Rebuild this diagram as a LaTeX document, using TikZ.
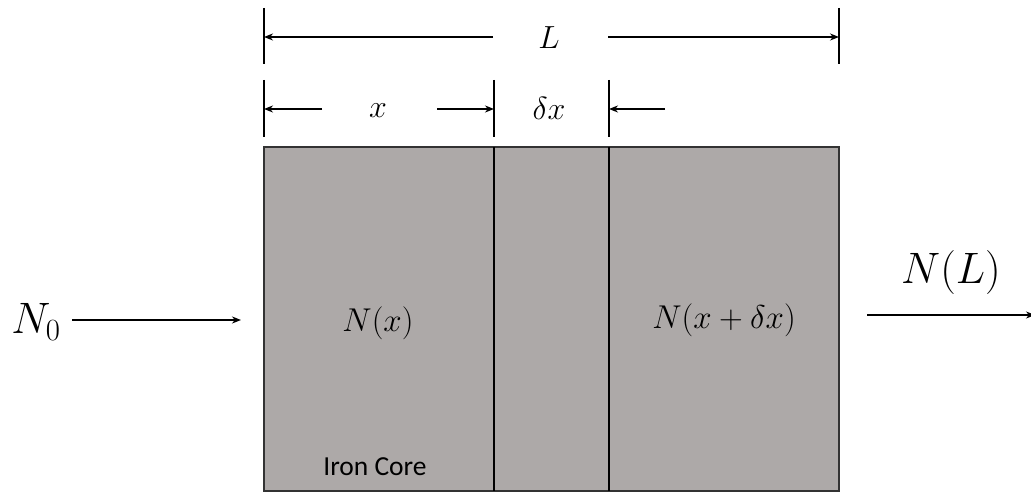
\documentclass[tikz,border=0pt]{standalone}
\usepackage{fix-cm}
\usepackage{fontspec}
\newfontfamily\labelfont{Carlito}
\usetikzlibrary{arrows.meta}
\definecolor{core}{HTML}{ADA9A8}
\definecolor{rim}{HTML}{333333}
\tikzset{
  dimline/.style={line width=2pt,-{Stealth[length=9pt,width=7pt]}},
  tick/.style={line width=2pt},
  divider/.style={line width=2pt,black},
  biglbl/.style={font=\fontsize{44}{48}\selectfont,inner sep=0pt},
  midlbl/.style={font=\fontsize{33}{36}\selectfont,inner sep=0pt},
  dimlbl/.style={font=\fontsize{32}{36}\selectfont,inner sep=0pt},
}
\begin{document}
\begin{tikzpicture}[x=1pt,y=-1pt]
\useasboundingbox (0,0) rectangle (1031,494);
% core
\draw[fill=core,draw=rim,line width=2pt] (264,147) rectangle (839,491);
\draw[divider] (494,147) -- (494,491);
\draw[divider] (609,147) -- (609,491);
% ticks
\coordinate (tL1) at (264,8);  \coordinate (tL2) at (264,64);
\coordinate (tR1) at (839,8);  \coordinate (tR2) at (839,64);
\draw[tick] (tL1) -- (tL2);
\draw[tick] (tR1) -- (tR2);
\coordinate (ta1) at (264,80); \coordinate (ta2) at (264,137);
\coordinate (tb1) at (494,80); \coordinate (tb2) at (494,137);
\coordinate (tc1) at (609,80); \coordinate (tc2) at (609,137);
\draw[tick] (ta1) -- (ta2);
\draw[tick] (tb1) -- (tb2);
\draw[tick] (tc1) -- (tc2);
% L dimension
\node[dimlbl] (L) at (549,38) {$L$};
\coordinate (Ls) at (493,37); \coordinate (Le) at (264,37);
\coordinate (Rs) at (608,37); \coordinate (Re) at (839,37);
\draw[dimline] (Ls) -- (Le);
\draw[dimline] (Rs) -- (Re);
% x dimension
\node[dimlbl] (x) at (378,111) {$x$};
\coordinate (xs1) at (322,109); \coordinate (xe1) at (264,109);
\coordinate (xs2) at (437,109); \coordinate (xe2) at (494,109);
\draw[dimline] (xs1) -- (xe1);
\draw[dimline] (xs2) -- (xe2);
\node[dimlbl] (dx) at (549,108) {$\delta x$};
\coordinate (ds) at (665,109); \coordinate (de) at (609,109);
\draw[dimline] (ds) -- (de);
% labels in core
\node[midlbl] (Nx) at (378,323) {$N(x)$};
\node[midlbl] (Nxd) at (724,320) {$N(x+\delta x)$};
\node[font=\labelfont\fontsize{27.5}{31}\selectfont,inner sep=0pt] (iron) at (375,467) {Iron Core};
% input / output
\node[biglbl] (N0) at (36,322) {$N_0$};
\coordinate (inS) at (72,320); \coordinate (inE) at (241,320);
\draw[dimline] (inS) -- (inE);
\node[biglbl] (NL) at (951,273) {$N(L)$};
\coordinate (outS) at (867,315); \coordinate (outE) at (1035,315);
\draw[dimline] (outS) -- (outE);
\end{tikzpicture}
\end{document}
